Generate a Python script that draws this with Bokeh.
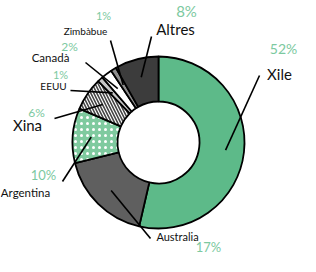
import math
from bokeh.plotting import figure
from bokeh.models import Range1d, ColumnDataSource
from bokeh.core.properties import value
from bokeh.embed import file_html
from bokeh.resources import INLINE

# ---- data ----
countries = ["Xile", "Australia", "Argentina", "Xina", "EEUU", "Canadà", "Zimbàbue", "Altres"]
shares = [52, 17, 10, 6, 1, 2, 1, 8]
pct_labels = ["52%", "17%", "10%", "6%", "1%", "2%", "1%", "8%"]

# ---- styles ----
fills = ["#5dba89", "#5f5f5f", "#7fca9f", "#ffffff", "#c6c6c6", "#ffffff", "#8e8e8e", "#3c3c3c"]
hatches = [" ", " ", "dot", "left_diagonal_line", " ", " ", " ", " "]
hatch_cols = ["white", "white", "white", "#444444", "white", "white", "white", "white"]

W, H = 300, 256
def Y(py):
    return 272 - py

# layout (page pixel coords)
CX, CY = 166, 150
R_OUT, R_IN = 86, 41
name_pos = [(287, 81), (185, 244), (33, 200), (35, 132), (61, 93), (58, 65), (93, 38), (183, 36)]
name_size = ["15px", "11px", "11.5px", "15px", "10px", "11.5px", "10px", "15px"]
pct_pos = [(291, 56), (216, 254), (51, 182), (44, 120), (68, 82), (77, 54), (111, 23), (194, 18)]
pct_size = ["14px", "13px", "13px", "12px", "11px", "12px", "11px", "15px"]
lead_start = [(267, 83), (158, 246), (70, 189), (62, 126), (78, 98), (93, 70), (118, 48), (159, 44)]

total = sum(shares)
starts, ends, mids = [], [], []
cum = 0.0
for s in shares:
    a0 = math.pi / 2 - 2 * math.pi * cum / total
    cum += s
    a1 = math.pi / 2 - 2 * math.pi * cum / total
    starts.append(a0)
    ends.append(a1)
    mids.append((a0 + a1) / 2)

p = figure(width=W, height=H, output_backend="svg", toolbar_location=None,
           x_range=Range1d(8, 8 + W), y_range=Range1d(Y(8 + H), Y(8)),
           min_border=0, outline_line_color=None)
p.axis.visible = False
p.grid.visible = False
p.background_fill_color = "white"

src = ColumnDataSource(dict(start=starts, end=ends, fill=fills, hatch=hatches, hcol=hatch_cols))
p.annular_wedge(x=CX, y=Y(CY), inner_radius=R_IN, outer_radius=R_OUT,
                start_angle="start", end_angle="end", direction="clock",
                fill_color="fill", hatch_pattern="hatch", hatch_color="hcol",
                hatch_scale=6, hatch_weight=1.6,
                line_color="black", line_width=1.8, source=src)

# leader lines
xs, ys = [], []
for (sx, sy), m in zip(lead_start, mids):
    r = (R_IN + R_OUT) / 2 + 4
    ex = CX + r * math.cos(m)
    ey = Y(CY) + r * math.sin(m)
    xs.append([sx, ex])
    ys.append([Y(sy), ey])
p.multi_line(xs=xs, ys=ys, line_color="black", line_width=1.6)

for name, (x, y), fs in zip(countries, name_pos, name_size):
    p.text(x=[x], y=[Y(y)], text=[name], text_align="center", text_baseline="middle",
           text_font=value("Lato"), text_font_size=fs, text_color="#111111")
for t, (x, y), fs in zip(pct_labels, pct_pos, pct_size):
    p.text(x=[x], y=[Y(y)], text=[t], text_align="center", text_baseline="middle",
           text_font=value("Lato"), text_font_size=fs, text_color="#7cc9a0")

open("out.html", "w").write(file_html(p, INLINE))
